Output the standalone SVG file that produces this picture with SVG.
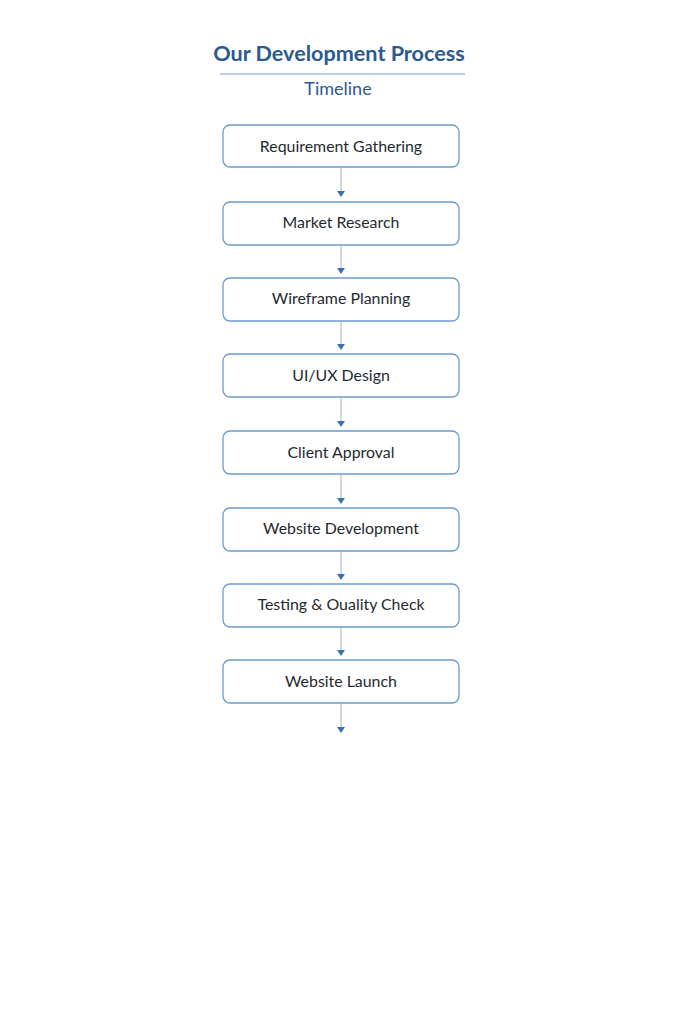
<svg xmlns="http://www.w3.org/2000/svg" width="683" height="1024" viewBox="0 0 683 1024">
<style>
.box{fill:#fff;stroke:#6b9bcf;stroke-width:1.3}
.lbl{font-family:Lato,"Liberation Sans",sans-serif;font-size:15.9px;fill:#1f2a30;text-anchor:middle}
.con{stroke:#a9bccf;stroke-width:1.1;fill:none}
.ah{fill:#3a72b0}
</style>
<rect width="683" height="1024" fill="#fff"/>
<g id="title">
<text x="339" y="61" font-family="Lato,'Liberation Sans',sans-serif" font-size="21.6" font-weight="bold" fill="#2c5a8e" text-anchor="middle">Our Development Process</text>
<line x1="220" y1="74" x2="465" y2="74" stroke="#7a9fc6" stroke-width="1.2"/>
<text x="338" y="95" font-family="Lato,'Liberation Sans',sans-serif" font-size="18" fill="#2c5a8e" text-anchor="middle">Timeline</text>
</g>
<g id="connectors">
<line class="con" x1="341" y1="167" x2="341" y2="191"/><path class="ah" d="M337,191 L345,191 L341,197 Z"/>
<line class="con" x1="341" y1="245" x2="341" y2="268"/><path class="ah" d="M337,268 L345,268 L341,274 Z"/>
<line class="con" x1="341" y1="321" x2="341" y2="344"/><path class="ah" d="M337,344 L345,344 L341,350 Z"/>
<line class="con" x1="341" y1="397" x2="341" y2="421"/><path class="ah" d="M337,421 L345,421 L341,427 Z"/>
<line class="con" x1="341" y1="474" x2="341" y2="498"/><path class="ah" d="M337,498 L345,498 L341,504 Z"/>
<line class="con" x1="341" y1="551" x2="341" y2="574"/><path class="ah" d="M337,574 L345,574 L341,580 Z"/>
<line class="con" x1="341" y1="627" x2="341" y2="650"/><path class="ah" d="M337,650 L345,650 L341,656 Z"/>
<line class="con" x1="341" y1="703" x2="341" y2="727"/><path class="ah" d="M337,727 L345,727 L341,733 Z"/>
</g>
<g id="n1"><rect class="box" x="223" y="125" width="236" height="42" rx="7"/><text class="lbl" x="341" y="152">Requirement Gathering</text></g>
<g id="n2"><rect class="box" x="223" y="202" width="236" height="43" rx="7"/><text class="lbl" x="341" y="228">Market Research</text></g>
<g id="n3"><rect class="box" x="223" y="278" width="236" height="43" rx="7"/><text class="lbl" x="341" y="304">Wireframe Planning</text></g>
<g id="n4"><rect class="box" x="223" y="354" width="236" height="43" rx="7"/><text class="lbl" x="341" y="381">UI/UX Design</text></g>
<g id="n5"><rect class="box" x="223" y="431" width="236" height="43" rx="7"/><text class="lbl" x="341" y="458">Client Approval</text></g>
<g id="n6"><rect class="box" x="223" y="508" width="236" height="43" rx="7"/><text class="lbl" x="341" y="534">Website Development</text></g>
<g id="n7"><rect class="box" x="223" y="584" width="236" height="43" rx="7"/><text class="lbl" x="341" y="610">Testing &amp; Ouality Check</text></g>
<g id="n8"><rect class="box" x="223" y="660" width="236" height="43" rx="7"/><text class="lbl" x="341" y="687">Website Launch</text></g>
</svg>
